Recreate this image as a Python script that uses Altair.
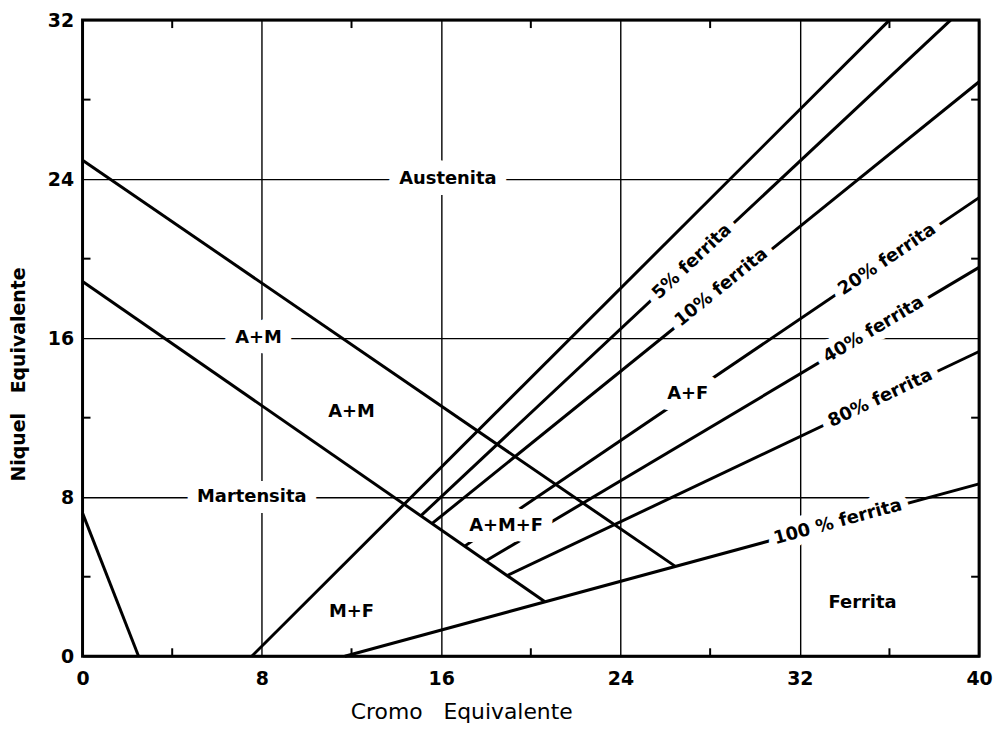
import math
import altair as alt
import pandas as pd

W, H = 902, 640
XMAX, YMAX = 40, 32

# Boundary and iso-ferrite lines (Cromo eq. -> Niquel eq.), end points
line_names = ["A/A+M", "A+M/M", "M/M+F", "0%", "5%", "10%", "20%", "40%", "80%", "100%"]
line_x0 = [0.0, 0.0, 0.0, 7.55, 15.1, 15.6, 17.05, 18.0, 18.95, 11.7]
line_y0 = [24.95, 18.85, 7.2, 0.0, 7.07, 6.68, 5.54, 4.8, 4.06, 0.0]
line_x1 = [26.45, 20.63, 2.5, 36.0, 38.73, 40.0, 40.0, 40.0, 40.0, 40.0]
line_y1 = [4.52, 2.74, 0.0, 32.0, 32.0, 28.9, 23.07, 19.56, 15.33, 8.67]

# Region labels
region_text = ["Austenita", "A+M", "A+M", "Martensita", "M+F", "A+M+F", "A+F", "Ferrita"]
region_x = [16.3, 7.85, 12.0, 7.55, 12.0, 18.9, 27.0, 34.8]
region_y = [24.0, 16.0, 12.3, 8.0, 2.2, 6.55, 13.2, 2.7]

# Ferrite labels placed on their lines
ferrite_text = ["5% ferrita", "10% ferrita", "20% ferrita", "40% ferrita", "80% ferrita", "100 % ferrita"]
ferrite_line = ["5%", "10%", "20%", "40%", "80%", "100%"]
ferrite_x = [27.2, 28.5, 35.9, 35.3, 35.6, 33.7]
ferrite_y = [19.84, 18.55, 19.95, 16.42, 12.97, 6.74]

# Axis values and inner minor ticks
x_major = [0, 8, 16, 24, 32, 40]
y_major = [0, 8, 16, 24, 32]
x_minor = [4, 12, 20, 28, 36]
y_minor = [4, 12, 20, 28]

NB = "\u00a0"
x_title = "Cromo" + NB * 3 + "Equivalente"
y_title = "Niquel" + NB * 3 + "Equivalente"

seg = pd.DataFrame({"name": line_names, "x0": line_x0, "y0": line_y0,
                    "x1": line_x1, "y1": line_y1})

px_x = W / XMAX
px_y = H / YMAX
slopes = {n: (b - a) / (d - c) for n, a, b, c, d in
          zip(line_names, line_y0, line_y1, line_x0, line_x1)}
angles = [(360 - math.degrees(math.atan2(slopes[n] * px_y, px_x))) % 360 for n in ferrite_line]

ferr = pd.DataFrame({"label": ferrite_text, "x": ferrite_x, "y": ferrite_y, "angle": angles})
reg = pd.DataFrame({"label": region_text, "x": region_x, "y": region_y})
txm = pd.DataFrame({"t": x_minor})
tym = pd.DataFrame({"t": y_minor})

font = "DejaVu Sans"
xscale = alt.Scale(domain=[0, XMAX], nice=False, zero=False)
yscale = alt.Scale(domain=[0, YMAX], nice=False, zero=False)

xaxis = alt.Axis(values=x_major, grid=True, gridColor="black", gridWidth=1.4, gridOpacity=1,
                 ticks=False, domain=False, labelFont=font, labelFontWeight="bold",
                 labelFontSize=19, labelColor="black", labelPadding=13, labelFlush=False,
                 title=x_title, titleFont=font, titleFontSize=22,
                 titleFontWeight="normal", titleColor="black", titleX=381, titleY=56,
                 titleBaseline="middle")
yaxis = alt.Axis(values=y_major, grid=True, gridColor="black", gridWidth=1.4, gridOpacity=1,
                 ticks=False, domain=False, labelFont=font, labelFontWeight="bold",
                 labelFontSize=19, labelColor="black", labelPadding=9, labelFlush=False,
                 title=y_title, titleFont=font, titleFontSize=19,
                 titleFontWeight="bold", titleColor="black", titleX=-64, titleY=356,
                 titleBaseline="middle", titleAngle=270)

X = lambda f: alt.X(f, scale=xscale, axis=xaxis)
Y = lambda f: alt.Y(f, scale=yscale, axis=yaxis)

lines = alt.Chart(seg).mark_rule(color="black", strokeWidth=3).encode(
    x=X("x0:Q"), y=Y("y0:Q"), x2="x1:Q", y2="y1:Q")

tick_style = dict(color="black", strokeWidth=2)
t_bottom = alt.Chart(txm).mark_rule(**tick_style).encode(
    x=X("t:Q"), y=alt.value(H), y2=alt.value(H - 8))
t_top = alt.Chart(txm).mark_rule(**tick_style).encode(
    x=X("t:Q"), y=alt.value(0), y2=alt.value(8))
t_left = alt.Chart(tym).mark_rule(**tick_style).encode(
    y=Y("t:Q"), x=alt.value(0), x2=alt.value(8))
t_right = alt.Chart(tym).mark_rule(**tick_style).encode(
    y=Y("t:Q"), x=alt.value(W), x2=alt.value(W - 8))

reg_enc = dict(x=X("x:Q"), y=Y("y:Q"), text="label:N")
reg_halo = alt.Chart(reg).mark_text(font=font, fontWeight="bold", fontSize=18,
                                    color="white", stroke="white", strokeWidth=22,
                                    strokeJoin="round").encode(**reg_enc)
reg_txt = alt.Chart(reg).mark_text(font=font, fontWeight="bold", fontSize=18,
                                   color="black").encode(**reg_enc)

fer_enc = dict(x=X("x:Q"), y=Y("y:Q"), text="label:N",
               angle=alt.Angle("angle:Q", scale=None))
fer_halo = alt.Chart(ferr).mark_text(font=font, fontWeight="bold", fontSize=18,
                                     color="white", stroke="white", strokeWidth=16,
                                     strokeJoin="round").encode(**fer_enc)
fer_txt = alt.Chart(ferr).mark_text(font=font, fontWeight="bold", fontSize=18,
                                    color="black").encode(**fer_enc)

chart = alt.layer(lines, t_bottom, t_top, t_left, t_right,
                  reg_halo, fer_halo, reg_txt, fer_txt).properties(
    width=W, height=H, autosize="none",
    padding={"left": 75, "top": 10, "right": 16, "bottom": 68},
    background="white"
).configure_view(stroke="black", strokeWidth=3)

chart.save("out.html", embed_options={"renderer": "svg", "actions": False})
